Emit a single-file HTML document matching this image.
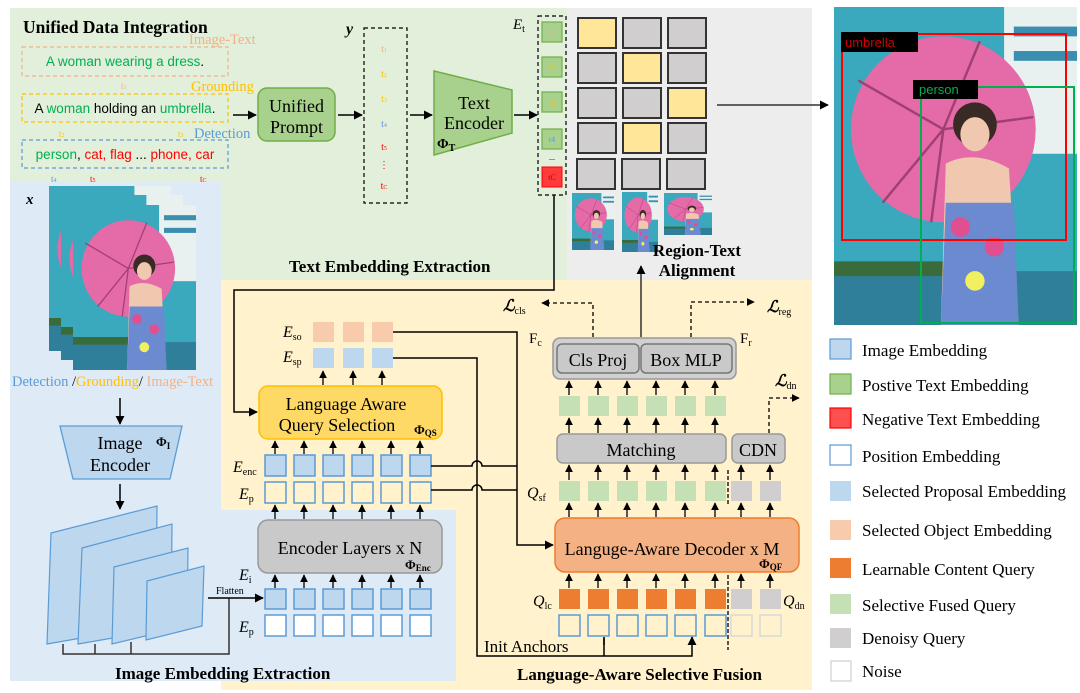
<!DOCTYPE html>
<html><head><meta charset="utf-8"><style>
html,body{margin:0;padding:0;background:#fff;width:1080px;height:693px;overflow:hidden}
svg{display:block}
.s{font-family:"Liberation Serif",serif}
.a{font-family:"Liberation Sans",sans-serif}
</style></head><body>
<svg width="1080" height="693" viewBox="0 0 1080 693" xmlns="http://www.w3.org/2000/svg">
<defs>
<marker id="ar" viewBox="0 0 10 10" refX="9" refY="5" markerWidth="6" markerHeight="6" orient="auto"><path d="M0,0L10,5L0,10z" fill="#000"/></marker>
<symbol id="photo" viewBox="0 0 100 130" preserveAspectRatio="none">
<rect width="100" height="130" fill="#3aa9bd"/>
<rect x="70" y="0" width="30" height="60" fill="#e8f0f0"/>
<rect x="74" y="8" width="26" height="4" fill="#3a8fb0"/><rect x="74" y="18" width="26" height="4" fill="#3a8fb0"/>
<rect x="0" y="108" width="100" height="22" fill="#2f7f9a"/><rect x="0" y="104" width="60" height="6" fill="#3a6b3a"/>
<circle cx="45" cy="50" r="38" fill="#e46aa8"/>
<path d="M45,50L10,30M45,50L20,80M45,50L60,14M45,50L82,45M45,50L40,88" stroke="#a04070" stroke-width="1"/>
<circle cx="58" cy="48" r="9" fill="#3a2a25"/><ellipse cx="58" cy="52" rx="6" ry="7" fill="#f0c8b0"/>
<path d="M46,64Q58,58 72,66L76,130L44,130Z" fill="#f0c8b0"/>
<path d="M46,80L74,80L76,130L44,130Z" fill="#6c8ad0"/>
<circle cx="52" cy="90" r="4" fill="#e05090"/><circle cx="66" cy="98" r="4" fill="#e05090"/><circle cx="58" cy="112" r="4" fill="#f0f060"/>
</symbol>
</defs>

<rect x="10" y="8" width="557" height="272" fill="#e2efda"/>
<rect x="567" y="8" width="245" height="272" fill="#ededed"/>
<rect x="221" y="280" width="591" height="410" fill="#fff2cc"/>
<rect x="10" y="182" width="211" height="499" fill="#deebf7"/>
<rect x="221" y="510" width="235" height="171" fill="#deebf7"/>

<text x="23" y="33" class="s" font-size="17.5" font-weight="bold">Unified Data Integration</text>
<text x="189" y="44" class="s" font-size="14.5" fill="#f4b183">Image-Text</text>
<rect x="22" y="47" width="206" height="29" fill="none" stroke="#f4b183" stroke-width="1.2" stroke-dasharray="4,3"/>
<text x="125" y="66" class="a" font-size="13.5" fill="#00b050" text-anchor="middle">A woman wearing a dress<tspan fill="#000">.</tspan></text>
<text x="121" y="89" class="s" font-size="9" fill="#f4b183">t<tspan font-size="6">1</tspan></text>
<text x="191" y="91" class="s" font-size="14.5" fill="#ffc000">Grounding</text>
<rect x="22" y="94" width="206" height="28" fill="none" stroke="#ffc000" stroke-width="1.2" stroke-dasharray="4,3"/>
<text x="125" y="113" class="a" font-size="13.5" text-anchor="middle">A <tspan fill="#00b050">woman</tspan> holding an <tspan fill="#00b050">umbrella</tspan>.</text>
<text x="59" y="137" class="s" font-size="9" fill="#ffc000">t<tspan font-size="6">2</tspan></text>
<text x="178" y="137" class="s" font-size="9" fill="#ffc000">t<tspan font-size="6">3</tspan></text>
<text x="194" y="138" class="s" font-size="14.5" fill="#5b9bd5">Detection</text>
<rect x="22" y="140" width="206" height="28" fill="none" stroke="#5b9bd5" stroke-width="1.2" stroke-dasharray="4,3"/>
<text x="125" y="159" class="a" font-size="13.5" text-anchor="middle"><tspan fill="#00b050">person</tspan>, <tspan fill="#ff0000">cat, flag</tspan> ... <tspan fill="#ff0000">phone, car</tspan></text>
<text x="51" y="182" class="s" font-size="9" fill="#5b9bd5">t<tspan font-size="6">4</tspan></text>
<text x="90" y="182" class="s" font-size="9" fill="#ff0000">t<tspan font-size="6">5</tspan></text>
<text x="200" y="182" class="s" font-size="9" fill="#ff0000">t<tspan font-size="6">C</tspan></text>

<line x1="233" y1="115" x2="256" y2="115" stroke="#000" stroke-width="1.5" marker-end="url(#ar)"/>
<rect x="258" y="88" width="77" height="53" rx="9" fill="#a9d18e" stroke="#70ad47" stroke-width="1.5"/>
<text x="296.5" y="112" class="s" font-size="18" text-anchor="middle">Unified</text>
<text x="296.5" y="133" class="s" font-size="18" text-anchor="middle">Prompt</text>
<line x1="338" y1="115" x2="362" y2="115" stroke="#000" stroke-width="1.5" marker-end="url(#ar)"/>
<text x="346" y="34" class="s" font-size="16" font-style="italic" font-weight="bold">y</text>
<rect x="364" y="28" width="43" height="175" fill="none" stroke="#000" stroke-width="1.2" stroke-dasharray="4,3"/>
<g class="s" font-size="10" text-anchor="middle">
<text x="384" y="52" fill="#f4b183">t<tspan font-size="6">1</tspan></text>
<text x="384" y="77" fill="#ffc000">t<tspan font-size="6">2</tspan></text>
<text x="384" y="102" fill="#ffc000">t<tspan font-size="6">3</tspan></text>
<text x="384" y="127" fill="#5b9bd5">t<tspan font-size="6">4</tspan></text>
<text x="384" y="150" fill="#ff0000">t<tspan font-size="6">5</tspan></text>
<text x="384" y="168" fill="#ff0000">⋮</text>
<text x="384" y="189" fill="#ff0000">t<tspan font-size="6">C</tspan></text>
</g>
<line x1="410" y1="115" x2="432" y2="115" stroke="#000" stroke-width="1.5" marker-end="url(#ar)"/>
<polygon points="434,71 512,90 512,133 434,155" fill="#a9d18e" stroke="#70ad47" stroke-width="1.5"/>
<text x="474" y="109" class="s" font-size="18" text-anchor="middle">Text</text>
<text x="474" y="129" class="s" font-size="18" text-anchor="middle">Encoder</text>
<text x="437" y="148" class="s" font-size="14" font-weight="bold">Φ<tspan font-size="10" dy="3">T</tspan></text>
<line x1="514" y1="115" x2="537" y2="115" stroke="#000" stroke-width="1.5" marker-end="url(#ar)"/>
<text x="513" y="29" class="s" font-size="15" font-style="italic">E<tspan font-size="10" dy="3" font-style="normal">t</tspan></text>
<rect x="538" y="16" width="28" height="179" fill="none" stroke="#000" stroke-width="1.2" stroke-dasharray="4,3"/>
<g stroke="#70ad47" stroke-width="1.2" fill="#a9d18e">
<rect x="542" y="22" width="20" height="20"/><rect x="542" y="57" width="20" height="20"/><rect x="542" y="92" width="20" height="20"/><rect x="542" y="129" width="20" height="20"/>
</g>
<rect x="542" y="167" width="20" height="20" fill="#ff3b3b" stroke="#ff0000"/>
<g class="s" font-size="8" text-anchor="middle">
<text x="552" y="35" fill="#f4b183">t1</text><text x="552" y="70" fill="#ffc000">t2</text><text x="552" y="105" fill="#ffc000">t3</text><text x="552" y="142" fill="#5b9bd5">t4</text><text x="552" y="160" fill="#000">...</text><text x="552" y="180" fill="#c00000">tC</text>
</g>
<text x="289" y="272" class="s" font-size="17" font-weight="bold">Text Embedding Extraction</text>

<g stroke="#333" stroke-width="2">
<rect x="578" y="18" width="38" height="30" fill="#ffe699"/><rect x="623" y="18" width="38" height="30" fill="#d0cece"/><rect x="668" y="18" width="38" height="30" fill="#d0cece"/>
<rect x="578" y="53" width="38" height="30" fill="#d0cece"/><rect x="623" y="53" width="38" height="30" fill="#ffe699"/><rect x="668" y="53" width="38" height="30" fill="#d0cece"/>
<rect x="578" y="88" width="38" height="30" fill="#d0cece"/><rect x="623" y="88" width="38" height="30" fill="#d0cece"/><rect x="668" y="88" width="38" height="30" fill="#ffe699"/>
<rect x="578" y="123" width="38" height="30" fill="#d0cece"/><rect x="623" y="123" width="38" height="30" fill="#ffe699"/><rect x="668" y="123" width="38" height="30" fill="#d0cece"/>
<rect x="577" y="159" width="38" height="30" fill="#d0cece"/><rect x="622" y="159" width="38" height="30" fill="#d0cece"/><rect x="667" y="159" width="38" height="30" fill="#d0cece"/>
</g>
<use href="#photo" x="572" y="193" width="42" height="57"/>
<use href="#photo" x="622" y="192" width="36" height="60"/>
<use href="#photo" x="664" y="193" width="48" height="42"/>
<text x="697" y="256" class="s" font-size="17" font-weight="bold" text-anchor="middle">Region-Text</text>
<text x="697" y="276" class="s" font-size="17" font-weight="bold" text-anchor="middle">Alignment</text>
<line x1="717" y1="105" x2="828" y2="105" stroke="#333" stroke-width="1.5" marker-end="url(#ar)"/>

<use href="#photo" x="834" y="7" width="243" height="318"/>
<rect x="842" y="34" width="224" height="206" fill="none" stroke="#ff0000" stroke-width="2"/>
<rect x="921" y="87" width="153" height="236" fill="none" stroke="#00b050" stroke-width="2"/>
<rect x="841" y="32" width="77" height="20" fill="#000"/>
<text x="845" y="47" class="a" font-size="13" fill="#d00000">umbrella</text>
<rect x="913" y="80" width="65" height="19" fill="#000"/>
<text x="919" y="94" class="a" font-size="13" fill="#00b050">person</text>

<g class="s" font-size="17">
<rect x="830" y="339" width="21" height="20" fill="#bdd7ee" stroke="#5b9bd5" stroke-width="1.2"/><text x="862" y="356">Image Embedding</text>
<rect x="830" y="374" width="21" height="20" fill="#a9d18e" stroke="#70ad47" stroke-width="1.2"/><text x="862" y="391">Postive Text Embedding</text>
<rect x="830" y="408" width="21" height="20" fill="#ff5050" stroke="#ff0000" stroke-width="1.2"/><text x="862" y="425">Negative Text Embedding</text>
<rect x="830" y="445" width="21" height="20" fill="#fff" stroke="#5b9bd5" stroke-width="1.2"/><text x="862" y="462">Position Embedding</text>
<rect x="830" y="481" width="21" height="20" fill="#bdd7ee"/><text x="862" y="497">Selected Proposal Embedding</text>
<rect x="830" y="520" width="21" height="20" fill="#f8cbad"/><text x="862" y="536">Selected Object Embedding</text>
<rect x="830" y="558" width="21" height="20" fill="#ed7d31"/><text x="862" y="575">Learnable Content Query</text>
<rect x="830" y="594" width="21" height="20" fill="#c5e0b4"/><text x="862" y="611">Selective Fused Query</text>
<rect x="830" y="628" width="21" height="20" fill="#d0cece"/><text x="862" y="644">Denoisy Query</text>
<rect x="831" y="661" width="20" height="20" fill="#fff" stroke="#d0cece" stroke-width="1.2"/><text x="862" y="677">Noise</text>
</g>

<text x="26" y="204" class="s" font-size="15" font-style="italic" font-weight="bold">x</text>
<use href="#photo" x="49" y="186" width="122" height="165"/>
<use href="#photo" x="61" y="195" width="122" height="165"/>
<use href="#photo" x="73" y="205" width="123" height="165"/>
<text x="12" y="386" class="s" font-size="14.5"><tspan fill="#5b9bd5">Detection </tspan><tspan fill="#000">/</tspan><tspan fill="#ffc000">Grounding</tspan><tspan fill="#000">/ </tspan><tspan fill="#f4b183"> Image-Text</tspan></text>
<line x1="120" y1="398" x2="120" y2="424" stroke="#000" stroke-width="1.5" marker-end="url(#ar)"/>
<polygon points="60,426 182,426 170,479 73,479" fill="#bdd7ee" stroke="#5b9bd5" stroke-width="1.3"/>
<text x="120" y="449" class="s" font-size="18" text-anchor="middle">Image</text>
<text x="120" y="471" class="s" font-size="18" text-anchor="middle">Encoder</text>
<text x="156" y="446" class="s" font-size="13" font-weight="bold">Φ<tspan font-size="9" dy="3">I</tspan></text>
<line x1="120" y1="484" x2="120" y2="509" stroke="#000" stroke-width="1.5" marker-end="url(#ar)"/>
<g fill="#bdd7ee" stroke="#5b9bd5" stroke-width="1.2">
<polygon points="51,533 157,506 156,625 47,644"/>
<polygon points="82,548 172,524 171,628 78,644"/>
<polygon points="114,567 188,548 187,626 112,644"/>
<polygon points="147,581 204,566 202,626 146,640"/>
</g>
<path d="M63,644V654H229V598M95,644V654M131,642V654" fill="none" stroke="#333" stroke-width="1.5"/>
<line x1="208" y1="598" x2="263" y2="598" stroke="#000" stroke-width="1.5" marker-end="url(#ar)"/>
<text x="216" y="594" class="s" font-size="10">Flatten</text>
<text x="115" y="679" class="s" font-size="17" font-weight="bold">Image Embedding Extraction</text>

<g stroke="#5b9bd5" stroke-width="1.5">
<g fill="#bdd7ee"><rect x="265" y="589" width="21" height="20"/><rect x="294" y="589" width="21" height="20"/><rect x="323" y="589" width="21" height="20"/><rect x="352" y="589" width="21" height="20"/><rect x="381" y="589" width="21" height="20"/><rect x="410" y="589" width="21" height="20"/></g>
<g fill="#fff"><rect x="265" y="615" width="21" height="21"/><rect x="294" y="615" width="21" height="21"/><rect x="323" y="615" width="21" height="21"/><rect x="352" y="615" width="21" height="21"/><rect x="381" y="615" width="21" height="21"/><rect x="410" y="615" width="21" height="21"/></g>
<g fill="#fff2cc"><rect x="265" y="482" width="21" height="21"/><rect x="294" y="482" width="21" height="21"/><rect x="323" y="482" width="21" height="21"/><rect x="352" y="482" width="21" height="21"/><rect x="381" y="482" width="21" height="21"/><rect x="410" y="482" width="21" height="21"/></g>
<g fill="#bdd7ee"><rect x="265" y="455" width="21" height="21"/><rect x="294" y="455" width="21" height="21"/><rect x="323" y="455" width="21" height="21"/><rect x="352" y="455" width="21" height="21"/><rect x="381" y="455" width="21" height="21"/><rect x="410" y="455" width="21" height="21"/></g>
</g>
<g class="s" font-size="16" font-style="italic">
<text x="239" y="580">E<tspan font-size="10" dy="3" font-style="normal">i</tspan></text>
<text x="239" y="632">E<tspan font-size="10" dy="3" font-style="normal">p</tspan></text>
<text x="233" y="472">E<tspan font-size="10" dy="3" font-style="normal">enc</tspan></text>
<text x="239" y="499">E<tspan font-size="10" dy="3" font-style="normal">p</tspan></text>
<text x="283" y="337">E<tspan font-size="10" dy="3" font-style="normal">so</tspan></text>
<text x="283" y="362">E<tspan font-size="10" dy="3" font-style="normal">sp</tspan></text>
</g>
<rect x="258" y="520" width="184" height="53" rx="10" fill="#c9c9c9" stroke="#999" stroke-width="1.5"/>
<text x="350" y="554" class="s" font-size="18" text-anchor="middle">Encoder Layers x N</text>
<text x="405" y="569" class="s" font-size="13" font-weight="bold">Φ<tspan font-size="9" dy="2">Enc</tspan></text>
<rect x="259" y="386" width="183" height="53" rx="9" fill="#ffd966" stroke="#ffc000" stroke-width="1.5"/>
<text x="346" y="410" class="s" font-size="18" text-anchor="middle">Language Aware</text>
<text x="337" y="431" class="s" font-size="18" text-anchor="middle">Query Selection</text>
<text x="414" y="434" class="s" font-size="13" font-weight="bold">Φ<tspan font-size="9" dy="2">QS</tspan></text>
<g fill="#f8cbad"><rect x="313" y="322" width="21" height="20"/><rect x="343" y="322" width="21" height="20"/><rect x="372" y="322" width="21" height="20"/></g>
<g fill="#bdd7ee"><rect x="313" y="348" width="21" height="20"/><rect x="343" y="348" width="21" height="20"/><rect x="372" y="348" width="21" height="20"/></g>
<g stroke="#000" stroke-width="1.3" marker-end="url(#ar)">
<line x1="323" y1="385" x2="323" y2="371"/><line x1="353" y1="385" x2="353" y2="371"/><line x1="382" y1="385" x2="382" y2="371"/>
<line x1="275" y1="588" x2="275" y2="575"/><line x1="304" y1="588" x2="304" y2="575"/><line x1="333" y1="588" x2="333" y2="575"/><line x1="362" y1="588" x2="362" y2="575"/><line x1="391" y1="588" x2="391" y2="575"/><line x1="420" y1="588" x2="420" y2="575"/>
<line x1="275" y1="519" x2="275" y2="505"/><line x1="304" y1="519" x2="304" y2="505"/><line x1="333" y1="519" x2="333" y2="505"/><line x1="362" y1="519" x2="362" y2="505"/><line x1="391" y1="519" x2="391" y2="505"/><line x1="420" y1="519" x2="420" y2="505"/>
<line x1="275" y1="454" x2="275" y2="441"/><line x1="304" y1="454" x2="304" y2="441"/><line x1="333" y1="454" x2="333" y2="441"/><line x1="362" y1="454" x2="362" y2="441"/><line x1="391" y1="454" x2="391" y2="441"/><line x1="420" y1="454" x2="420" y2="441"/>
</g>
<path d="M554,195V290H234V412H257" fill="none" stroke="#000" stroke-width="1.5" marker-end="url(#ar)"/>
<path d="M393,332H517V545H553" fill="none" stroke="#000" stroke-width="1.5" marker-end="url(#ar)"/>
<path d="M393,358H477V656H692V638M604,656V638" fill="none" stroke="#000" stroke-width="1.5"/>
<path d="M604,645V637M692,645V637" stroke="#000" stroke-width="1.5" marker-end="url(#ar)"/>
<path d="M431,466H472A5,5 0 0 1 482,466H517M431,490H472A5,5 0 0 1 482,490H517" fill="none" stroke="#000" stroke-width="1.5"/>
<text x="484" y="652" class="s" font-size="17">Init Anchors</text>

<rect x="555" y="518" width="244" height="54" rx="10" fill="#f4b183" stroke="#ed7d31" stroke-width="1.5"/>
<text x="672" y="555" class="s" font-size="18" text-anchor="middle">Languge-Aware Decoder x M</text>
<text x="759" y="568" class="s" font-size="13" font-weight="bold">Φ<tspan font-size="9" dy="2">QF</tspan></text>
<g fill="#ed7d31"><rect x="559" y="589" width="21" height="20"/><rect x="588" y="589" width="21" height="20"/><rect x="617" y="589" width="21" height="20"/><rect x="646" y="589" width="21" height="20"/><rect x="675" y="589" width="21" height="20"/><rect x="705" y="589" width="21" height="20"/></g>
<g fill="none" stroke="#5b9bd5" stroke-width="1.5"><rect x="559" y="615" width="21" height="21"/><rect x="588" y="615" width="21" height="21"/><rect x="617" y="615" width="21" height="21"/><rect x="646" y="615" width="21" height="21"/><rect x="675" y="615" width="21" height="21"/><rect x="705" y="615" width="21" height="21"/></g>
<g fill="#d0cece"><rect x="731" y="589" width="21" height="20"/><rect x="760" y="589" width="21" height="20"/><rect x="731" y="481" width="21" height="20"/><rect x="760" y="481" width="21" height="20"/></g>
<g fill="none" stroke="#d9d9d9" stroke-width="1.5"><rect x="731" y="615" width="21" height="21"/><rect x="760" y="615" width="21" height="21"/></g>
<g fill="#c5e0b4"><rect x="559" y="481" width="21" height="20"/><rect x="588" y="481" width="21" height="20"/><rect x="617" y="481" width="21" height="20"/><rect x="646" y="481" width="21" height="20"/><rect x="675" y="481" width="21" height="20"/><rect x="705" y="481" width="21" height="20"/>
<rect x="559" y="396" width="21" height="20"/><rect x="588" y="396" width="21" height="20"/><rect x="617" y="396" width="21" height="20"/><rect x="646" y="396" width="21" height="20"/><rect x="675" y="396" width="21" height="20"/><rect x="705" y="396" width="21" height="20"/></g>
<rect x="557" y="434" width="169" height="29" rx="6" fill="#c9c9c9" stroke="#999" stroke-width="1.5"/>
<text x="641" y="456" class="s" font-size="18" text-anchor="middle">Matching</text>
<rect x="732" y="434" width="53" height="29" rx="6" fill="#c9c9c9" stroke="#999" stroke-width="1.5"/>
<text x="758" y="456" class="s" font-size="18" text-anchor="middle">CDN</text>
<rect x="553" y="338" width="183" height="41" rx="7" fill="#d0d0d0" stroke="#999" stroke-width="1.5"/>
<rect x="557" y="344" width="82" height="29" rx="5" fill="#c9c9c9" stroke="#777" stroke-width="1.5"/>
<rect x="641" y="344" width="91" height="29" rx="5" fill="#c9c9c9" stroke="#777" stroke-width="1.5"/>
<text x="598" y="366" class="s" font-size="18" text-anchor="middle">Cls Proj</text>
<text x="686" y="366" class="s" font-size="18" text-anchor="middle">Box MLP</text>
<text x="529" y="343" class="s" font-size="15">F<tspan font-size="10" dy="3">c</tspan></text>
<text x="740" y="343" class="s" font-size="15">F<tspan font-size="10" dy="3">r</tspan></text>
<line x1="641" y1="337" x2="641" y2="266" stroke="#333" stroke-width="1.5" marker-end="url(#ar)"/>
<path d="M593,337V303H542" fill="none" stroke="#000" stroke-width="1.3" stroke-dasharray="4,3" marker-end="url(#ar)"/>
<path d="M691,337V302H754" fill="none" stroke="#000" stroke-width="1.3" stroke-dasharray="4,3" marker-end="url(#ar)"/>
<path d="M769,433V398H799" fill="none" stroke="#000" stroke-width="1.3" stroke-dasharray="4,3" marker-end="url(#ar)"/>
<g class="s" font-size="16" font-style="italic" font-weight="bold">
<text x="503" y="311">ℒ<tspan font-size="10" dy="3" font-weight="normal" font-style="normal">cls</tspan></text>
<text x="767" y="312">ℒ<tspan font-size="10" dy="3" font-weight="normal" font-style="normal">reg</tspan></text>
<text x="775" y="386">ℒ<tspan font-size="10" dy="3" font-weight="normal" font-style="normal">dn</tspan></text>
</g>
<g class="s" font-size="16" font-style="italic">
<text x="527" y="498">Q<tspan font-size="10" dy="3" font-style="normal">sf</tspan></text>
<text x="533" y="606">Q<tspan font-size="10" dy="3" font-style="normal">lc</tspan></text>
<text x="783" y="606">Q<tspan font-size="10" dy="3" font-style="normal">dn</tspan></text>
</g>
<path d="M728,470V505M728,575V650" stroke="#000" stroke-width="1.3" stroke-dasharray="4,2"/>
<g stroke="#000" stroke-width="1.3" marker-end="url(#ar)">
<line x1="569" y1="588" x2="569" y2="574"/><line x1="598" y1="588" x2="598" y2="574"/><line x1="627" y1="588" x2="627" y2="574"/><line x1="656" y1="588" x2="656" y2="574"/><line x1="685" y1="588" x2="685" y2="574"/><line x1="715" y1="588" x2="715" y2="574"/><line x1="741" y1="588" x2="741" y2="574"/><line x1="770" y1="588" x2="770" y2="574"/>
<line x1="569" y1="517" x2="569" y2="503"/><line x1="598" y1="517" x2="598" y2="503"/><line x1="627" y1="517" x2="627" y2="503"/><line x1="656" y1="517" x2="656" y2="503"/><line x1="685" y1="517" x2="685" y2="503"/><line x1="715" y1="517" x2="715" y2="503"/><line x1="741" y1="517" x2="741" y2="503"/><line x1="770" y1="517" x2="770" y2="503"/>
<line x1="569" y1="480" x2="569" y2="465"/><line x1="598" y1="480" x2="598" y2="465"/><line x1="627" y1="480" x2="627" y2="465"/><line x1="656" y1="480" x2="656" y2="465"/><line x1="685" y1="480" x2="685" y2="465"/><line x1="715" y1="480" x2="715" y2="465"/><line x1="741" y1="480" x2="741" y2="465"/><line x1="770" y1="480" x2="770" y2="465"/>
<line x1="569" y1="433" x2="569" y2="418"/><line x1="598" y1="433" x2="598" y2="418"/><line x1="627" y1="433" x2="627" y2="418"/><line x1="656" y1="433" x2="656" y2="418"/><line x1="685" y1="433" x2="685" y2="418"/><line x1="715" y1="433" x2="715" y2="418"/>
<line x1="569" y1="395" x2="569" y2="381"/><line x1="598" y1="395" x2="598" y2="381"/><line x1="627" y1="395" x2="627" y2="381"/><line x1="656" y1="395" x2="656" y2="381"/><line x1="685" y1="395" x2="685" y2="381"/><line x1="715" y1="395" x2="715" y2="381"/>
</g>
<text x="517" y="680" class="s" font-size="17" font-weight="bold">Language-Aware Selective Fusion</text>
</svg>
</body></html>
